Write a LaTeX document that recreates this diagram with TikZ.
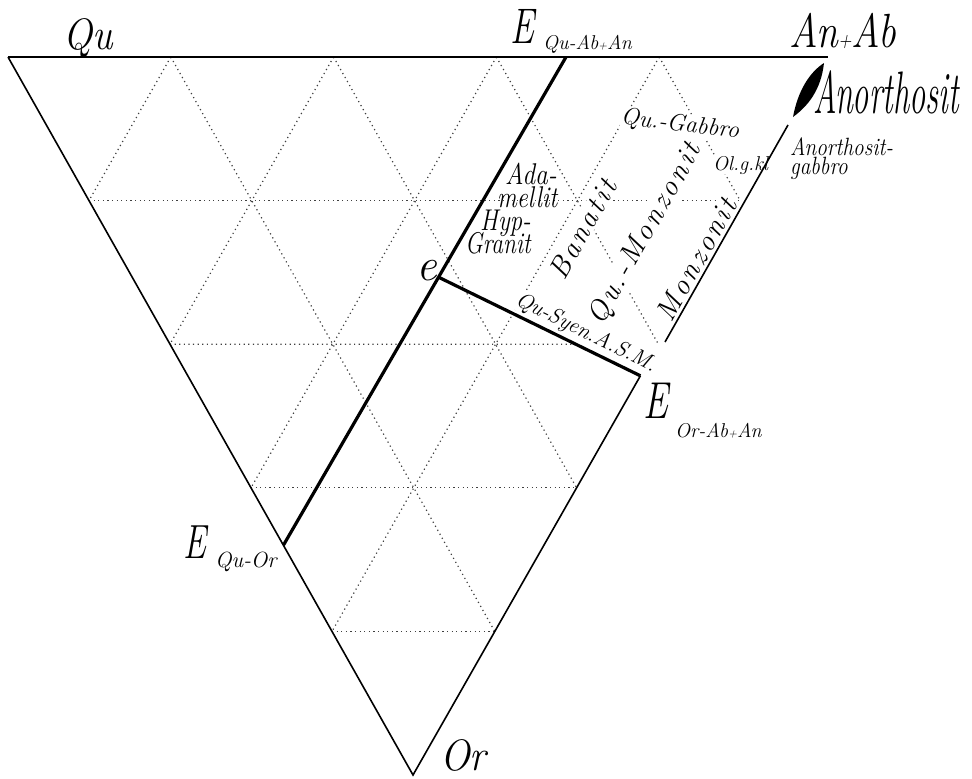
\documentclass[tikz,border=0pt]{standalone}
\usetikzlibrary{calc}
\newcommand\plus[1]{{\fontsize{#1}{#1}\selectfont+}}
\newcommand\cnd[2]{\scalebox{#1}[1]{#2}}
\def\lsp#1{\lspx#1\relax}
\def\lspx#1{\ifx#1\relax\else#1\kern2.8pt\expandafter\lspx\fi}

\begin{document}
\begin{tikzpicture}[x=1pt,y=-1pt,
  grd/.style={line width=1.2pt,dash pattern=on 1.2pt off 3.4pt,black!75},
  edg/.style={line width=1.6pt},
  bld/.style={line width=3.2pt},
  big/.style={inner sep=0,font=\fontsize{44}{44}\selectfont\itshape},
  sub/.style={inner sep=0,font=\fontsize{20}{20}\selectfont\itshape},
  lbl/.style={inner sep=0,font=\fontsize{30}{30}\selectfont\itshape},
  sml/.style={inner sep=0.5pt,fill=white,font=\fontsize{23}{23}\selectfont\itshape},
  rot/.style={inner sep=0.5pt,fill=white,rotate=60.6,font=\fontsize{29}{29}\selectfont\itshape}]
\useasboundingbox (0,0) rectangle (972,779);
\coordinate (Qu) at (8,57);
\coordinate (AB) at (822,57);
\coordinate (Or) at (413,775);
\coordinate (top) at (828,57);
\coordinate (EQuAb) at (566,57);
\coordinate (EQuOr) at ($(Qu)!0.68!(Or)$);
\coordinate (e) at ($(EQuOr)!0.549!(EQuAb)$);
\coordinate (EOr) at ($(AB)!0.444!(Or)$);
\coordinate (an1) at (788,125);
\coordinate (an2) at (665,342);
\foreach \i in {1,...,4}{
  \draw[grd] ($(Qu)!\i/5!(AB)$) -- ($(AB)!1-\i/5!(Or)$);
  \draw[grd] ($(Qu)!\i/5!(AB)$) -- ($(Qu)!\i/5!(Or)$);
}
\foreach \j in {1,3,4}
  \draw[grd] ($(Qu)!\j/5!(Or)$) -- ($(AB)!\j/5!(Or)$);
\coordinate (h2a) at ($(Qu)!2/5!(Or)$);
\coordinate (h2b) at ($(AB)!2/5!(Or)$);
\draw[grd] (h2a) -- (intersection of h2a--h2b and e--EOr);
\node[big,anchor=base] (lqu) at (88,49) {\cnd{0.88}{Qu}};
\node[big,anchor=base] (lanab) at (843,47) {\cnd{0.82}{\fontsize{48}{48}\selectfont An\plus{22}Ab}};
\node[big,anchor=base west,font=\fontsize{50}{50}\selectfont\itshape] (le1) at (510,43) {\cnd{0.72}{E}};
\node[sub,anchor=base west] (le1s) at (543,49) {Qu-Ab\plus{12}An};
\node[big,anchor=base west,font=\fontsize{48}{48}\selectfont\itshape] (le2) at (183,558) {\cnd{0.72}{E}};
\node[sub,anchor=base west,font=\fontsize{22}{22}\selectfont\itshape] (le2s) at (215,567) {Qu-Or};
\node[big,anchor=base west,font=\fontsize{52}{52}\selectfont\itshape] (le3) at (643,418) {\cnd{0.72}{E}};
\node[sub,anchor=base west] (le3s) at (675,437) {Or-Ab\plus{12}An};
\node[big,anchor=base,font=\fontsize{46}{46}\selectfont\itshape] (le) at (427,280) {e};
\node[big,anchor=base west] (lor) at (440,770) {\cnd{0.9}{Or}};
\node[big,anchor=base west,font=\fontsize{60}{60}\selectfont\itshape] (lano) at (813,113) {\cnd{0.54}{Anorthosit}};
\node[sml,anchor=base west,inner sep=0,fill=none,font=\fontsize{25}{25}\selectfont\itshape] (lag1) at (790,155) {\cnd{0.85}{Anorthosit-}};
\node[sml,anchor=base west,inner sep=0,fill=none,font=\fontsize{25}{25}\selectfont\itshape] (lag2) at (790,174) {\cnd{0.85}{gabbro}};
\node[sml,rotate=-7,font=\fontsize{24}{24}\selectfont\itshape] (lqg) at (680,125) {Qu.-Gabbro};
\node[sub,anchor=base west,fill=white] (lol) at (713,170) {Ol.g.kl};
\node[lbl,anchor=base west] (lada) at (505,184) {\cnd{0.85}{Ada-}};
\node[lbl,anchor=base west] (lmel) at (497,207) {\cnd{0.82}{mellit}};
\node[lbl,anchor=base west] (lhyp) at (480,230) {\cnd{0.82}{Hyp-}};
\node[lbl,anchor=base west] (lgra) at (465,253) {\cnd{0.78}{Granit}};
\node[rot] (lban) at (583,228) {\lsp{Banatit}};
\node[rot] (lqmo) at (646,233) {\lsp{Qu.-Monzonit}};
\node[rot] (lmon) at (697,258) {\lsp{Monzonit}};
\node[sub,fill=white,inner sep=0.5pt,font=\fontsize{22}{22}\selectfont\itshape,rotate=-26.2] (lsy) at (586,333) {Qu-Syen.A.S.M.};
\fill (793,117) .. controls (798,90) and (810,72) .. (824,63) .. controls (821,90) and (808,106) .. (793,117);
\draw[edg] (Qu) -- (top);
\draw[edg,line join=miter] (EOr) -- (Or) -- (Qu);
\draw[edg] (an1) -- (an2);
\draw[bld] (EQuOr) -- (EQuAb);
\draw[bld] (e) -- (EOr);
\end{tikzpicture}
\end{document}
